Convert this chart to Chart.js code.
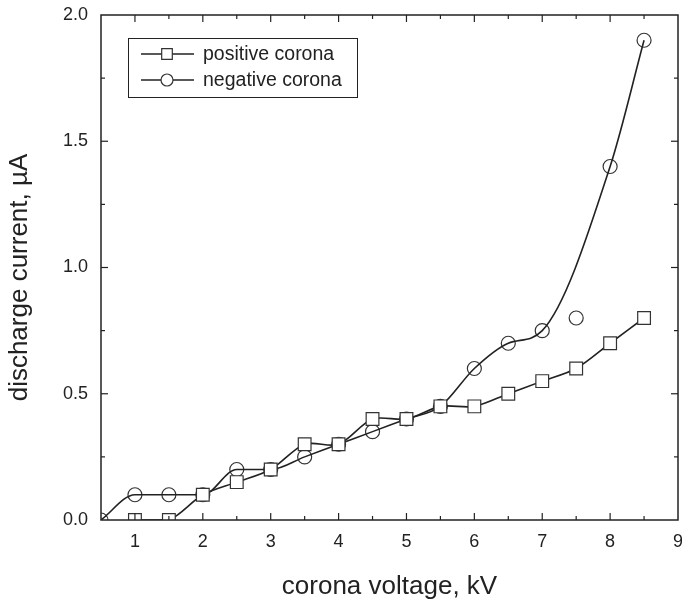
<!DOCTYPE html>
<html>
<head>
<meta charset="utf-8">
<script src="https://cdn.jsdelivr.net/npm/chart.js@4"></script>
<style>
  html, body { margin: 0; padding: 0; background: #fff; }
  #wrap { width: 682px; height: 602px; }
</style>
</head>
<body>
<div id="wrap"><canvas id="chart" width="682" height="602"></canvas></div>
<script>
// --- data ---
const posVoltage = [1, 1.5, 2, 2.5, 3, 3.5, 4, 4.5, 5, 5.5, 6, 6.5, 7, 7.5, 8, 8.5];
const posCurrent = [0, 0, 0.1, 0.15, 0.2, 0.3, 0.3, 0.4, 0.4, 0.45, 0.45, 0.5, 0.55, 0.6, 0.7, 0.8];
const negVoltage = [0.5, 1, 1.5, 2, 2.5, 3, 3.5, 4, 4.5, 5, 5.5, 6, 6.5, 7, 7.5, 8, 8.5];
const negCurrent = [0, 0.1, 0.1, 0.1, 0.2, 0.2, 0.25, 0.3, 0.35, 0.4, 0.45, 0.6, 0.7, 0.75, 0.8, 1.4, 1.9];
// the fitted curve in the figure skips the 7.5 kV point
const negCurveSkip = [7.5];
const xTicks = [1, 2, 3, 4, 5, 6, 7, 8, 9];
const yTicks = [0, 0.5, 1.0, 1.5, 2.0];
const seriesNames = ["positive corona", "negative corona"];
const yTitle = "discharge current, µA";

const FONT = "'Liberation Sans', Arial, Helvetica, sans-serif";
const INK = "#222";

const toXY = (xs, ys) => xs.map((x, i) => ({ x, y: ys[i] }));
const negCurve = toXY(negVoltage, negCurrent).filter(p => !negCurveSkip.includes(p.x));

// --- frame with inward ticks on all four sides ---
const framePlugin = {
  id: "frame",
  afterDatasetsDraw(chart) {
    const { ctx, chartArea: a, scales: { x, y } } = chart;
    ctx.save();
    ctx.strokeStyle = INK;
    ctx.lineWidth = 1.5;
    ctx.strokeRect(a.left, a.top, a.right - a.left, a.bottom - a.top);
    ctx.lineWidth = 1.2;
    const tick = (x1, y1, x2, y2) => { ctx.beginPath(); ctx.moveTo(x1, y1); ctx.lineTo(x2, y2); ctx.stroke(); };
    const xt = [];
    xTicks.forEach(v => { xt.push([v, 7]); xt.push([v - 0.5, 4]); });
    xt.forEach(([v, len]) => {
      if (v <= x.min || v >= x.max) return;
      const px = x.getPixelForValue(v);
      tick(px, a.bottom, px, a.bottom - len);
      tick(px, a.top, px, a.top + len);
    });
    const yt = [];
    yTicks.forEach(v => { yt.push([v, 7]); yt.push([v - 0.25, 4]); });
    yt.forEach(([v, len]) => {
      if (v <= y.min || v >= y.max) return;
      const py = y.getPixelForValue(v);
      tick(a.left, py, a.left + len, py);
      tick(a.right, py, a.right - len, py);
    });
    // y title sits a little below the plot centre in the original
    ctx.save();
    ctx.translate(20, (a.top + a.bottom) / 2 + 10);
    ctx.rotate(-Math.PI / 2);
    ctx.fillStyle = INK;
    ctx.font = "26px " + FONT;
    ctx.textAlign = "center";
    ctx.textBaseline = "middle";
    ctx.fillText(yTitle, 0, 0);
    ctx.restore();
    ctx.restore();
  }
};

// --- legend box inside the plot ---
const legendPlugin = {
  id: "boxLegend",
  afterDraw(chart) {
    const { ctx } = chart;
    const bx = 128, by = 38, bw = 229, bh = 59;
    ctx.save();
    ctx.strokeStyle = INK;
    ctx.lineWidth = 1;
    ctx.strokeRect(bx + 0.5, by + 0.5, bw, bh);
    const rows = [
      { ds: chart.data.datasets[0], y: by + 16 },
      { ds: chart.data.datasets[2], y: by + 42 }
    ];
    rows.forEach((r, i) => {
      ctx.strokeStyle = INK;
      ctx.lineWidth = 1.5;
      ctx.beginPath();
      ctx.moveTo(bx + 13, r.y);
      ctx.lineTo(bx + 66, r.y);
      ctx.stroke();
      ctx.fillStyle = "#fff";
      ctx.strokeStyle = "#333";
      ctx.lineWidth = 1.2;
      Chart.helpers.drawPoint(ctx, {
        pointStyle: r.ds.pointStyle,
        radius: r.ds.pointStyle === "rect" ? 7.5 : 6,
        borderWidth: 1.2
      }, bx + 39, r.y);
      ctx.fillStyle = INK;
      ctx.font = "19.5px " + FONT;
      ctx.textBaseline = "middle";
      ctx.fillText(seriesNames[i], bx + 75, r.y + 1);
    });
    ctx.restore();
  }
};

new Chart(document.getElementById("chart"), {
  type: "scatter",
  data: {
    datasets: [
      {
        label: seriesNames[0],
        data: toXY(posVoltage, posCurrent),
        showLine: true,
        tension: 0.3,
        borderColor: INK,
        borderWidth: 1.6,
        pointStyle: "rect",
        pointRadius: 9,
        pointBackgroundColor: "#fff",
        pointBorderColor: "#333",
        pointBorderWidth: 1.2,
        clip: 0
      },
      {
        label: seriesNames[1] + " curve",
        data: negCurve,
        showLine: true,
        cubicInterpolationMode: "monotone",
        borderColor: INK,
        borderWidth: 1.6,
        pointRadius: 0,
        clip: 0
      },
      {
        label: seriesNames[1],
        data: toXY(negVoltage, negCurrent),
        showLine: false,
        pointStyle: "circle",
        pointRadius: 7,
        pointBackgroundColor: "#fff",
        pointBorderColor: "#333",
        pointBorderWidth: 1.2,
        clip: 0
      }
    ]
  },
  options: {
    responsive: false,
    animation: false,
    layout: { autoPadding: false, padding: { top: 15, right: 4, left: 0, bottom: 0 } },
    plugins: { legend: { display: false }, tooltip: { enabled: false } },
    scales: {
      x: {
        type: "linear",
        min: 0.5,
        max: 9,
        afterBuildTicks: s => { s.ticks = xTicks.map(v => ({ value: v })); },
        afterFit: s => { s.height = 82; s.paddingLeft = 0; s.paddingRight = 0; },
        grid: { display: false, drawTicks: false },
        border: { display: false },
        ticks: { color: INK, font: { size: 18, family: FONT }, padding: 11 },
        title: {
          display: true,
          text: "corona voltage, kV",
          color: INK,
          font: { size: 26, family: FONT },
          padding: { top: 0, bottom: 0 }
        }
      },
      y: {
        type: "linear",
        min: 0,
        max: 2,
        afterBuildTicks: s => { s.ticks = yTicks.map(v => ({ value: v })); },
        afterFit: s => { s.width = 101; s.paddingTop = 0; s.paddingBottom = 0; },
        grid: { display: false, drawTicks: false },
        border: { display: false },
        ticks: {
          color: INK,
          font: { size: 18, family: FONT },
          padding: 13,
          callback: v => Number(v).toFixed(1)
        }
      }
    }
  },
  plugins: [framePlugin, legendPlugin]
});
</script>
</body>
</html>
